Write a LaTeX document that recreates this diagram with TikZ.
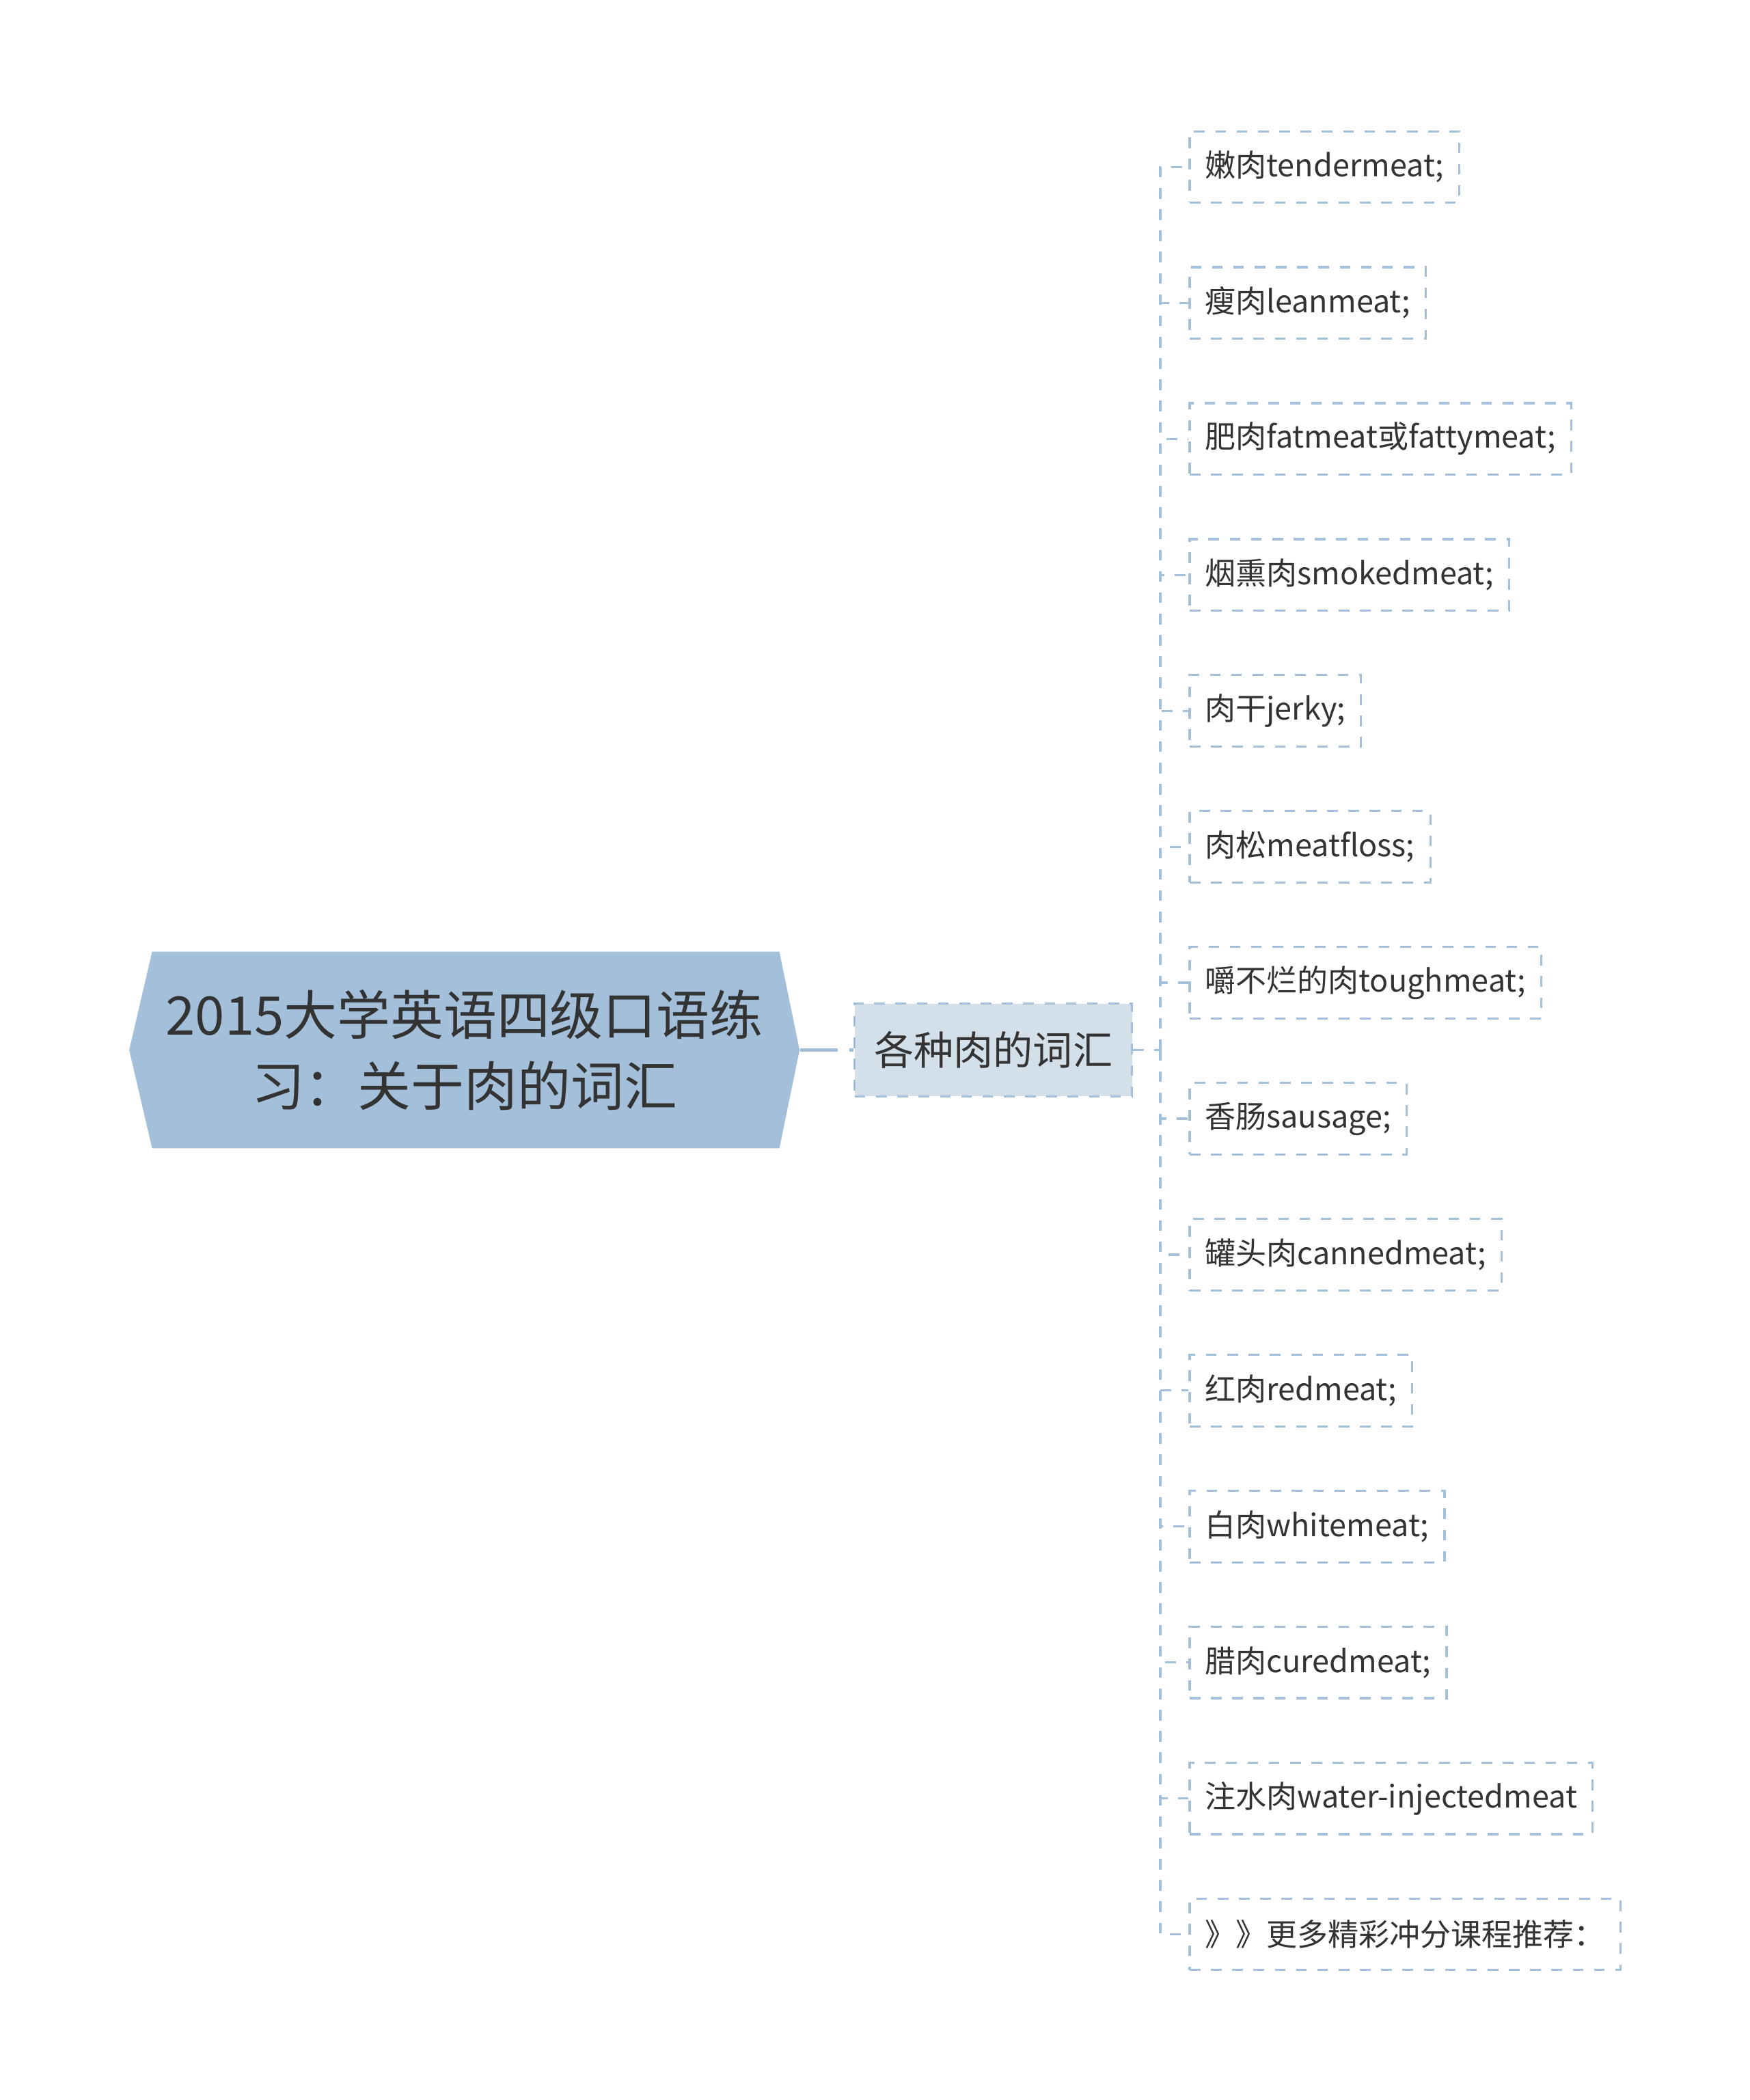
\documentclass[tikz,border=0pt]{standalone}
\usepackage{fontspec}
\setmainfont{Noto Sans CJK SC}
\definecolor{rootblue}{HTML}{A3BFDA}
\definecolor{subblue}{HTML}{D3E0EA}
\definecolor{txt}{HTML}{333333}
\tikzstyle{root} = [minimum width=9.96cm, minimum height=2.92cm, align=center, text=txt, font=\fontsize{22.5}{30}\selectfont]
\tikzstyle{sub} = [rectangle, minimum width=4.12cm, minimum height=1.38cm, fill=subblue, draw=rootblue, line width=0.9pt, dash pattern=on 4.5pt off 4.5pt, text=txt, font=\fontsize{16.8}{20}\selectfont]
\tikzstyle{leaf} = [rectangle, anchor=west, minimum height=1.06cm, inner xsep=0.23cm, fill=white, draw=rootblue, line width=0.9pt, dash pattern=on 4.5pt off 4.5pt, text=txt, font=\fontsize{13}{16}\selectfont]
\tikzstyle{link} = [draw=rootblue, line width=0.9pt, dash pattern=on 4.5pt off 4.5pt]

\begin{document}
\begin{tikzpicture}[x=0.02cm, y=-0.02cm]
    \useasboundingbox (0,0) rectangle (1300,1560);
    \fill[rootblue] (113,707) -- (579,707) -- (594,780) -- (579,853) -- (113,853) -- (96,780) -- cycle;
    \node (root) [root] at (345,780) {2015大学英语四级口语练\\习：关于肉的词汇};
    \node (kinds) [sub] at (738,780) {各种肉的词汇};

    \node (w1) [leaf] at (883,124) {嫩肉tendermeat;};
    \node (w2) [leaf] at (883,225) {瘦肉leanmeat;};
    \node (w3) [leaf] at (883,326) {肥肉fatmeat或fattymeat;};
    \node (w4) [leaf] at (883,427) {烟熏肉smokedmeat;};
    \node (w5) [leaf] at (883,528) {肉干jerky;};
    \node (w6) [leaf] at (883,629) {肉松meatfloss;};
    \node (w7) [leaf] at (883,730) {嚼不烂的肉toughmeat;};
    \node (w8) [leaf] at (883,831) {香肠sausage;};
    \node (w9) [leaf] at (883,932) {罐头肉cannedmeat;};
    \node (w10) [leaf] at (883,1033) {红肉redmeat;};
    \node (w11) [leaf] at (883,1134) {白肉whitemeat;};
    \node (w12) [leaf] at (883,1235) {腊肉curedmeat;};
    \node (w13) [leaf] at (883,1336) {注水肉water-injectedmeat};
    \node (w14) [leaf] at (883,1437) {》》更多精彩冲分课程推荐：};

    \draw[rootblue, line width=1.4pt, dash pattern=on 16pt off 4.9pt on 2.5pt off 10pt] (root.east) -- (kinds.west);
    \coordinate (fork) at (862,780);
    \draw[link] (kinds.east) -- (fork);
    \draw[link] (fork) |- (w1.west);
    \draw[link] (fork) |- (w2.west);
    \draw[link] (fork) |- (w3.west);
    \draw[link] (fork) |- (w4.west);
    \draw[link] (fork) |- (w5.west);
    \draw[link] (fork) |- (w6.west);
    \draw[link] (fork) |- (w7.west);
    \draw[link] (fork) |- (w8.west);
    \draw[link] (fork) |- (w9.west);
    \draw[link] (fork) |- (w10.west);
    \draw[link] (fork) |- (w11.west);
    \draw[link] (fork) |- (w12.west);
    \draw[link] (fork) |- (w13.west);
    \draw[link] (fork) |- (w14.west);
\end{tikzpicture}
\end{document}
